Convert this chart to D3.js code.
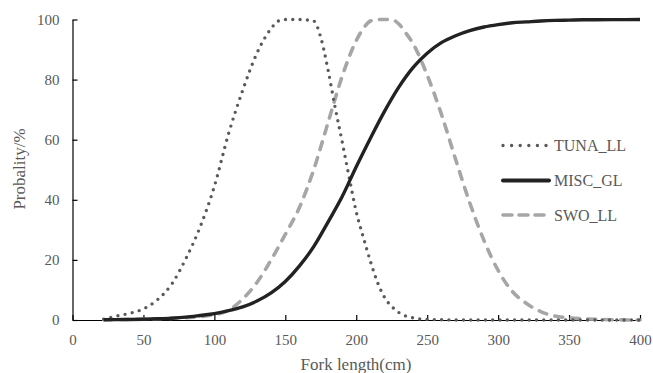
<!DOCTYPE html>
<html><head><meta charset="utf-8">
<script src="https://cdn.jsdelivr.net/npm/d3@7"></script>
<style>body{margin:0;background:#fff}svg{display:block}</style>
</head><body><svg id="c" width="653" height="373"></svg>
<script>
const xTicks = [0,50,100,150,200,250,300,350,400];
const yTicks = [0,20,40,60,80,100];
const seriesNames = ["TUNA_LL","MISC_GL","SWO_LL"];

const tunaLen = [22,30,40,50,60,70,80,90,100,110,120,130,140,145,150,160,170,175,180,185,190,195,200,205,210,215,220,225,230,240,250,275,300,325,350,375,400];
const tunaVal = [0.3,1.2,2.2,3.7,6.8,12,20.5,31,44.5,62,76.5,88.8,97,99.5,100,100,99.5,94,83.5,71,59.5,47.5,36,27.5,19.5,12.5,7.5,4.5,2.5,0.7,0.2,0,0,0,0,0,0];

const miscLen = [22,30,40,50,60,70,80,90,100,110,120,130,140,150,160,170,180,190,200,210,220,230,240,250,260,270,280,290,300,310,320,330,340,350,360,380,400];
const miscVal = [0.1,0.12,0.18,0.27,0.4,0.6,0.95,1.5,2.1,3.1,4.4,6.3,9,12.8,18,24.4,32.5,41,51,60.5,69.5,77.5,84,88.8,92.3,94.6,96.3,97.5,98.3,98.9,99.2,99.5,99.7,99.8,99.9,99.95,100];

const swoLen = [22,40,60,80,90,100,110,120,130,140,150,160,170,180,190,200,205,210,215,220,225,230,235,240,250,260,270,280,290,300,310,320,330,340,350,360,380,400];
const swoVal = [0.1,0.2,0.4,0.8,1.1,1.8,3.2,7,12.5,20,28.5,37.5,50,65.5,81,93,97,99.5,100,100,100,98.5,95.5,92,81.5,68.5,53.5,39,26.5,16.5,9.5,5.5,2.8,1.3,0.7,0.4,0.1,0];

const FONT = "'Liberation Serif', 'Times New Roman', Tinos, 'Nimbus Roman', 'DejaVu Serif', serif";
const svg = d3.select("#c");
const x = d3.scaleLinear().domain([0,400]).range([72.5,640]);
const y = d3.scaleLinear().domain([0,100]).range([320,19.5]);
const grey = "#595959";

const xa = svg.append("g").attr("transform","translate(0,320)")
  .call(d3.axisBottom(x).tickValues(xTicks).tickSizeInner(-5).tickSizeOuter(0).tickPadding(14));
const ya = svg.append("g").attr("transform","translate(72.5,0)")
  .call(d3.axisLeft(y).tickValues(yTicks).tickSizeInner(-5).tickSizeOuter(0).tickPadding(13));
[xa,ya].forEach(a=>{
  a.attr("font-family",FONT).attr("font-size",15);
  a.select(".domain").attr("stroke","#000").attr("stroke-width",1.2);
  a.selectAll(".tick line").attr("stroke","#000").attr("stroke-width",1.2);
  a.selectAll(".tick text").attr("fill",grey);
});

const line = d3.line().x(d=>x(d[0])).y(d=>y(d[1])).curve(d3.curveMonotoneX);
const styles = [
  {name:seriesNames[0], data:d3.zip(tunaLen,tunaVal), color:grey, w:3.4, dash:"0 7.3", cap:"round"},
  {name:seriesNames[1], data:d3.zip(miscLen,miscVal), color:"#222", w:3.4, dash:null, cap:"butt"},
  {name:seriesNames[2], data:d3.zip(swoLen,swoVal), color:"#a6a6a6", w:3.6, dash:"8 8.5", cap:"round"}
];
[styles[2],styles[0],styles[1]].forEach(s=>{
  svg.append("path").attr("d",line(s.data)).attr("fill","none")
    .attr("stroke",s.color).attr("stroke-width",s.w)
    .attr("stroke-dasharray",s.dash).attr("stroke-linecap",s.cap);
});

const legY = [145.5,180.5,215];
styles.forEach((s,i)=>{
  svg.append("line").attr("x1",503).attr("x2",549).attr("y1",legY[i]).attr("y2",legY[i])
    .attr("stroke",s.color).attr("stroke-width",i===1?4:s.w)
    .attr("stroke-dasharray",i===0?"0 8.6":(i===2?"9 7":null))
    .attr("stroke-linecap","round");
  svg.append("text").attr("x",554).attr("y",legY[i]+5.5).attr("fill",grey)
    .attr("font-family",FONT).attr("font-size",16).text(s.name);
});

svg.append("text").attr("x",356).attr("y",370).attr("text-anchor","middle")
  .attr("font-family",FONT).attr("font-size",17).attr("fill",grey).text("Fork length(cm)");
svg.append("text").attr("transform","translate(25,169) rotate(-90)").attr("text-anchor","middle")
  .attr("font-family",FONT).attr("font-size",17).attr("fill",grey).text("Probality/%");
</script></body></html>
